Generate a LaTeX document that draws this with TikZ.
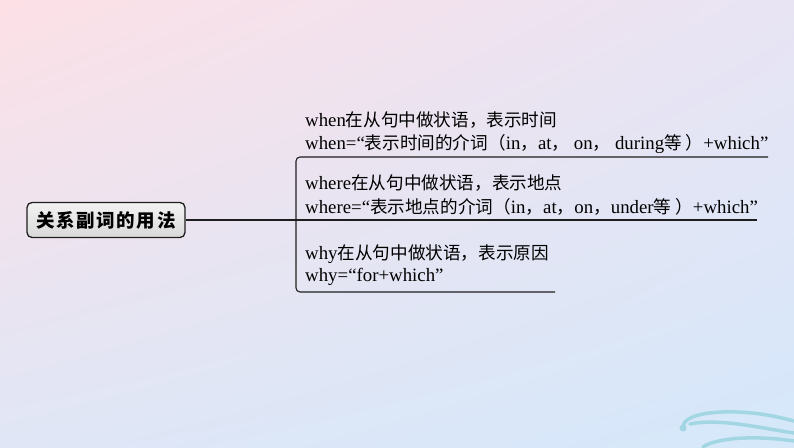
\documentclass[tikz,border=0pt]{standalone}
\usepackage{fontspec}
\usetikzlibrary{shadings}
\setmainfont{Liberation Serif}[Scale=1.07]
\newfontfamily\cjk{Noto Sans CJK SC}
\newcommand\zh[1]{{\cjk #1}}
\definecolor{bgTL}{HTML}{FDE0E6}
\definecolor{bgTR}{HTML}{E8E4F4}
\definecolor{bgBL}{HTML}{E0E6F6}
\definecolor{bgBR}{HTML}{D4E8FA}
\definecolor{wave}{HTML}{A2D6E2}
\definecolor{linec}{HTML}{1E1E1E}
\begin{document}
\begin{tikzpicture}[x=1pt,y=-1pt,
  txt/.style={anchor=west,inner sep=0pt,font=\fontsize{17.6}{20}\selectfont,text=black},
  rootbox/.style={draw=linec,line width=1.3pt,rounded corners=5pt,top color=white!95!black,bottom color=white!85!black,minimum width=158pt,minimum height=35pt,inner sep=0pt,font=\fontsize{18.5}{20}\selectfont\cjk\bfseries},
  conn/.style={draw=linec,line width=1.1pt,rounded corners=4pt},
  wavestroke/.style={draw=wave,line width=3.5pt,line cap=round}]
\useasboundingbox (0,0) rectangle (794,447);
\shade[upper left=bgTL,upper right=bgTR,lower left=bgBL,lower right=bgBR] (0,0) rectangle (794,447);
% waves
\fill[wave] (683,428) circle (3.5);
\draw[wavestroke] (684,429) .. controls (680,420) and (695,413) .. (722,412) .. controls (752,411) and (775,416) .. (794,421);
\draw[wavestroke] (690,424) .. controls (720,418) and (760,428) .. (794,433);
\draw[wavestroke] (703,447) .. controls (712,440) and (745,434) .. (794,441);
% root
\node[rootbox] (root) at (106,220) {关\kern1.6pt 系\kern1.6pt 副\kern1.6pt 词\kern1.6pt 的\kern1.6pt 用\kern1.6pt 法};
% texts
\node[txt] (w1) at (305,120) {when\zh{在从句中做状语，表示时间}};
\node[txt] (w2) at (305,143.5) {when=“\zh{表示时间的介词（}in\zh{，}at\zh{，} on\zh{，} during\zh{等 ）}+which”};
\node[txt] (r1) at (305,183.5) {where\zh{在从句中做状语，表示地点}};
\node[txt] (r2) at (305,207) {where=“\zh{表示地点的介词（}in\zh{，}at\zh{，}on\zh{，}under\zh{等 ）}+which”};
\node[txt] (y1) at (305,254) {why\zh{在从句中做状语，表示原因}};
\node[txt] (y2) at (305,277) {why=“for+which”};
% connectors
\coordinate (fork) at (296,220);
\coordinate (topend) at (768,157);
\coordinate (midend) at (757,220);
\coordinate (botend) at (555,292);
\draw[conn] (root.east) -- (fork) -- (midend);
\draw[conn] (fork) -- (fork |- topend) -- (topend);
\draw[conn] (fork) -- (fork |- botend) -- (botend);
\end{tikzpicture}
\end{document}
